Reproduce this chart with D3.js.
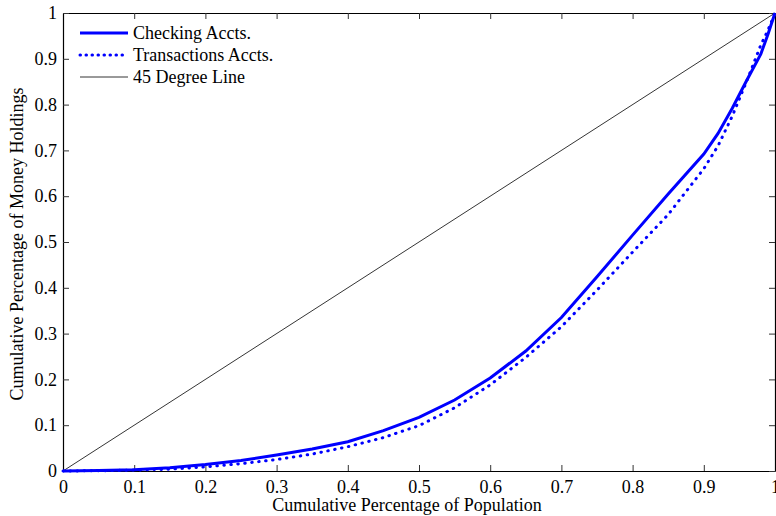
<!DOCTYPE html>
<html>
<head>
<meta charset="utf-8">
<script src="https://cdn.jsdelivr.net/npm/d3@7"></script>
<style>
  body { margin: 0; background: #fff; }
  svg { display: block; font-family: 'Liberation Serif', 'Times New Roman', serif; }
</style>
</head>
<body>
<script>
// Population share (x) and cumulative share of money holdings (y)
const popShare = [0, 0.05, 0.1, 0.15, 0.2, 0.25, 0.3, 0.35, 0.4, 0.45, 0.5, 0.55, 0.6,
  0.65, 0.7, 0.75, 0.8, 0.85, 0.9, 0.92, 0.94, 0.96, 0.98, 0.99, 1]
const checking = [0, 0.001, 0.003, 0.007, 0.014, 0.023, 0.035, 0.048, 0.064, 0.088, 0.117,
  0.155, 0.203, 0.262, 0.335, 0.424, 0.515, 0.605, 0.692, 0.737, 0.792, 0.852, 0.91, 0.953, 1]
const transactions = [0, 0.0005, 0.002, 0.004, 0.009, 0.016, 0.025, 0.037, 0.053, 0.073, 0.099,
  0.138, 0.188, 0.248, 0.315, 0.395, 0.478, 0.56, 0.66, 0.71, 0.775, 0.85, 0.93, 0.962, 1]
const diagonal = [0, 1]
const ticks = [0, 0.1, 0.2, 0.3, 0.4, 0.5, 0.6, 0.7, 0.8, 0.9, 1]
const legendLabels = ['Checking Accts.', 'Transactions Accts.', '45 Degree Line']

const width = 776
const height = 516
const plotLeft = 63, plotRight = 775, plotTop = 13, plotBottom = 471
const blue = '#0000ff'
const fontSize = 18

const svg = d3.select('body').append('svg')
  .attr('width', width)
  .attr('height', height)

const x = d3.scaleLinear().domain([0, 1]).range([plotLeft, plotRight])
const y = d3.scaleLinear().domain([0, 1]).range([plotBottom, plotTop])

const fmt = d => d === 0 || d === 1 ? String(d) : d.toFixed(1)

// Axes (MATLAB style box with inward ticks)
svg.append('g')
  .attr('transform', `translate(0,${plotBottom})`)
  .call(d3.axisBottom(x).tickValues(ticks).tickFormat(fmt).tickSizeInner(-6).tickSizeOuter(0).tickPadding(9))
svg.append('g')
  .attr('transform', `translate(0,${plotTop})`)
  .call(d3.axisTop(x).tickValues(ticks).tickFormat('').tickSizeInner(-6).tickSizeOuter(0))
svg.append('g')
  .attr('transform', `translate(${plotLeft},0)`)
  .call(d3.axisLeft(y).tickValues(ticks).tickFormat(fmt).tickSizeInner(-6).tickSizeOuter(0).tickPadding(6))
svg.append('g')
  .attr('transform', `translate(${plotRight},0)`)
  .call(d3.axisRight(y).tickValues(ticks).tickFormat('').tickSizeInner(-6).tickSizeOuter(0))

svg.selectAll('.tick text')
  .attr('font-family', "'Liberation Serif', serif")
  .attr('font-size', fontSize)
  .attr('fill', '#000')
svg.selectAll('.domain').attr('stroke', '#000').attr('stroke-width', 1.2)
svg.selectAll('.tick line').attr('stroke', '#333')

// Lines
const line = d3.line()
  .x(d => x(d[0]))
  .y(d => y(d[1]))

svg.append('path')
  .datum(diagonal.map(d => [d, d]))
  .attr('d', line)
  .attr('fill', 'none')
  .attr('stroke', '#000')
  .attr('stroke-width', 0.8)

svg.append('path')
  .datum(popShare.map((p, i) => [p, transactions[i]]))
  .attr('d', line)
  .attr('fill', 'none')
  .attr('stroke', blue)
  .attr('stroke-width', 3)
  .attr('stroke-linecap', 'round')
  .attr('stroke-dasharray', '0.5 6.5')

svg.append('path')
  .datum(popShare.map((p, i) => [p, checking[i]]))
  .attr('d', line)
  .attr('fill', 'none')
  .attr('stroke', blue)
  .attr('stroke-width', 3)

// Axis titles
svg.append('text')
  .attr('x', 407)
  .attr('y', 511)
  .attr('text-anchor', 'middle')
  .attr('font-size', fontSize)
  .text('Cumulative Percentage of Population')

svg.append('text')
  .attr('transform', `translate(23,244) rotate(-90)`)
  .attr('text-anchor', 'middle')
  .attr('font-size', fontSize)
  .text('Cumulative Percentage of Money Holdings')

// Legend
const legendStyles = [
  { stroke: blue, width: 3, dash: null },
  { stroke: blue, width: 3, dash: '0.5 5.5' },
  { stroke: '#000', width: 0.8, dash: null }
]
const legend = svg.append('g')
legend.selectAll('line')
  .data(legendLabels)
  .enter()
  .append('line')
  .attr('x1', 80)
  .attr('x2', 128)
  .attr('y1', (d, i) => 33 + i * 22)
  .attr('y2', (d, i) => 33 + i * 22)
  .attr('stroke', (d, i) => legendStyles[i].stroke)
  .attr('stroke-width', (d, i) => legendStyles[i].width)
  .attr('stroke-linecap', (d, i) => legendStyles[i].dash ? 'round' : 'butt')
  .attr('stroke-dasharray', (d, i) => legendStyles[i].dash)
legend.selectAll('text')
  .data(legendLabels)
  .enter()
  .append('text')
  .attr('x', 133)
  .attr('y', (d, i) => 39 + i * 22)
  .attr('font-size', fontSize)
  .text(d => d)
</script>
</body>
</html>
